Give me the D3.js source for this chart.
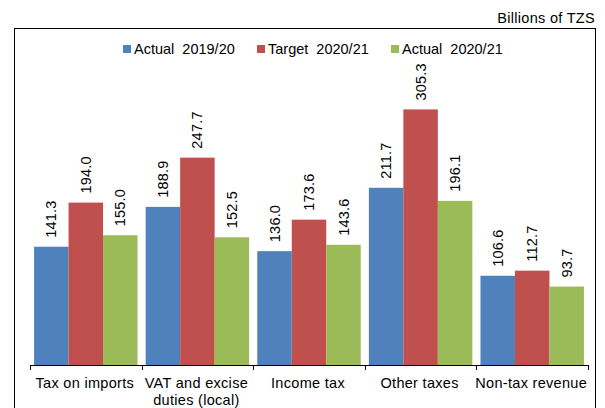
<!DOCTYPE html>
<html>
<head>
<meta charset="utf-8">
<script src="https://cdn.jsdelivr.net/npm/d3@7"></script>
<style>
  html, body { margin: 0; padding: 0; background: #fff; }
  svg { display: block; font-family: "Liberation Sans", Arial, sans-serif; }
</style>
</head>
<body>
<svg id="chart" width="605" height="408"></svg>
<script>
// Revenue by source, billions of TZS
const categories = [
  ["Tax on imports"],
  ["VAT and excise", "duties (local)"],
  ["Income tax"],
  ["Other taxes"],
  ["Non-tax revenue"]
];
const seriesNames = ["Actual  2019/20", "Target  2020/21", "Actual  2020/21"];
const actual1920 = [141.3, 188.9, 136.0, 211.7, 106.6];
const target2021 = [194.0, 247.7, 173.6, 305.3, 112.7];
const actual2021 = [155.0, 152.5, 143.6, 196.1, 93.7];
const colors = ["#4F81BD", "#C0504D", "#9BBB59"];

const series = [actual1920, target2021, actual2021];
const keys = categories.map(c => c.join(" "));

const svg = d3.select("#chart");

// Frame around the plot
svg.append("rect")
  .attr("x", 14.5).attr("y", 28.5)
  .attr("width", 581).attr("height", 400)
  .attr("fill", "none").attr("stroke", "#000").attr("stroke-width", 1);

// Unit note
svg.append("text")
  .attr("x", 595).attr("y", 22.5)
  .attr("text-anchor", "end")
  .attr("font-size", 14.5)
  .attr("letter-spacing", 0.3)
  .text("Billions of TZS");

const x0 = d3.scaleBand().domain(keys).range([30, 588]).paddingInner(0).paddingOuter(0);
const x1 = d3.scaleBand().domain(d3.range(series.length))
  .range([0, x0.bandwidth()]).paddingOuter(0.118).paddingInner(0);
const y = d3.scaleLinear().domain([0, 350]).range([365, 72]);

// Bars and value labels
const groups = svg.append("g").selectAll("g")
  .data(keys)
  .join("g")
  .attr("transform", d => `translate(${x0(d)},0)`);

groups.each(function(k, ci) {
  const g = d3.select(this);
  series.forEach((vals, si) => {
    const v = vals[ci];
    g.append("rect")
      .attr("x", x1(si))
      .attr("y", y(v))
      .attr("width", x1.bandwidth())
      .attr("height", y(0) - y(v))
      .attr("fill", colors[si]);
    const cx = x1(si) + x1.bandwidth() / 2;
    const ty = y(v) - 9;
    g.append("text")
      .attr("transform", `translate(${cx},${ty}) rotate(-90)`)
      .attr("dy", "0.35em")
      .attr("text-anchor", "start")
      .attr("font-size", 14.5)
      .attr("letter-spacing", 0.2)
      .text(v.toFixed(1));
  });
});

// Category axis with ticks at band edges
const axisG = svg.append("g");
axisG.append("line")
  .attr("x1", 30).attr("x2", 588)
  .attr("y1", 365.5).attr("y2", 365.5)
  .attr("stroke", "#000");
const edges = keys.map(k => x0(k)).concat([x0.range()[1]]);
axisG.selectAll("line.tick")
  .data(edges)
  .join("line")
  .attr("class", "tick")
  .attr("x1", d => Math.round(d) + 0.5).attr("x2", d => Math.round(d) + 0.5)
  .attr("y1", 365).attr("y2", 370)
  .attr("stroke", "#000");

axisG.selectAll("text.cat")
  .data(categories)
  .join("text")
  .attr("class", "cat")
  .attr("text-anchor", "middle")
  .attr("font-size", 14.5)
  .attr("letter-spacing", 0.3)
  .each(function(lines, i) {
    const t = d3.select(this);
    const cx = x0(keys[i]) + x0.bandwidth() / 2 - 1;
    lines.forEach((ln, j) => {
      t.append("tspan").attr("x", cx).attr("y", 388 + j * 17).text(ln);
    });
  });

// Legend
const legendX = [123, 257, 391];
const legend = svg.append("g");
seriesNames.forEach((name, i) => {
  legend.append("rect")
    .attr("x", legendX[i]).attr("y", 45)
    .attr("width", 8).attr("height", 8)
    .attr("fill", colors[i]);
  legend.append("text")
    .attr("x", legendX[i] + 11).attr("y", 54)
    .attr("font-size", 14.5)
    .style("white-space", "pre")
    .text(name);
});
</script>
</body>
</html>
